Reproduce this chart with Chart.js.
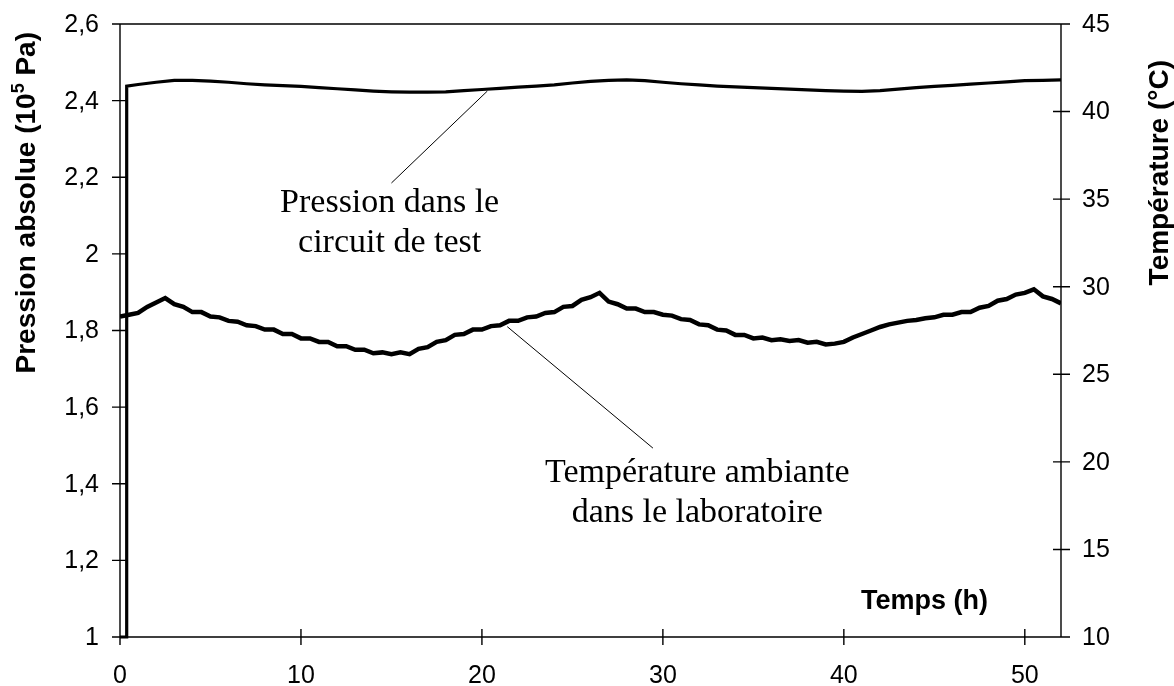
<!DOCTYPE html>
<html>
<head>
<meta charset="utf-8">
<script src="https://cdn.jsdelivr.net/npm/chart.js@4"></script>
<style>
  html, body { margin: 0; padding: 0; background: #fff; }
  #wrap { width: 1174px; height: 686px; }
</style>
</head>
<body>
<div id="wrap"><canvas id="chart" width="1174" height="686"></canvas></div>
<script>
// time axis (h) and tick values
var xTicks = [0, 10, 20, 30, 40, 50];
var pTicks = [1, 1.2, 1.4, 1.6, 1.8, 2, 2.2, 2.4, 2.6];
var tTicks = [10, 15, 20, 25, 30, 35, 40, 45];

// test circuit pressure (10^5 Pa)
var pressHours = [0, 0.37, 0.37, 1, 2, 3, 4, 5, 6, 7, 8, 9, 10, 11, 12, 13, 14, 15, 16, 17, 18, 19, 20,
  21, 22, 23, 24, 25, 26, 27, 28, 29, 30, 31, 32, 33, 34, 35, 36, 37, 38, 39, 40,
  41, 42, 43, 44, 45, 46, 47, 48, 49, 50, 51, 52];
var pressure = [1.0, 1.0, 2.438, 2.442, 2.448, 2.453, 2.453, 2.451, 2.448, 2.444, 2.441, 2.439, 2.437,
  2.434, 2.431, 2.428, 2.425, 2.423, 2.422, 2.422, 2.423, 2.426, 2.429,
  2.432, 2.435, 2.438, 2.441, 2.446, 2.450, 2.453, 2.454, 2.452, 2.448, 2.444, 2.441, 2.438, 2.436,
  2.434, 2.432, 2.430, 2.428, 2.426, 2.425,
  2.424, 2.426, 2.430, 2.434, 2.437, 2.440, 2.443, 2.446, 2.449, 2.452, 2.453, 2.454];

// lab ambient temperature (°C)
var tempHours = [0, 0.5, 1, 1.5, 2, 2.5, 3, 3.5, 4, 4.5, 5, 5.5, 6, 6.5, 7, 7.5, 8, 8.5, 9, 9.5,
  10, 10.5, 11, 11.5, 12, 12.5, 13, 13.5, 14, 14.5, 15, 15.5, 16, 16.5, 17, 17.5, 18, 18.5, 19, 19.5,
  20, 20.5, 21, 21.5, 22, 22.5, 23, 23.5, 24, 24.5, 25, 25.5, 26, 26.5, 27, 27.5, 28, 28.5, 29, 29.5,
  30, 30.5, 31, 31.5, 32, 32.5, 33, 33.5, 34, 34.5, 35, 35.5, 36, 36.5, 37, 37.5, 38, 38.5, 39, 39.5,
  40, 40.5, 41, 41.5, 42, 42.5, 43, 43.5, 44, 44.5, 45, 45.5, 46, 46.5, 47, 47.5, 48, 48.5, 49, 49.5,
  50, 50.5, 51, 51.5, 52];
var temperature = [28.3, 28.4, 28.5, 28.85, 29.1, 29.35, 29.0, 28.85, 28.55, 28.55,
  28.3, 28.25, 28.05, 28.0, 27.8, 27.75, 27.55, 27.55, 27.3, 27.3,
  27.05, 27.05, 26.85, 26.85, 26.6, 26.6, 26.4, 26.4, 26.2, 26.25,
  26.15, 26.25, 26.15, 26.45, 26.55, 26.85, 26.95, 27.25, 27.3, 27.55,
  27.55, 27.75, 27.8, 28.05, 28.05, 28.25, 28.3, 28.5, 28.55, 28.85,
  28.9, 29.25, 29.4, 29.65, 29.15, 29.0, 28.75, 28.75, 28.55, 28.55,
  28.4, 28.35, 28.15, 28.1, 27.85, 27.8, 27.55, 27.5, 27.25, 27.25,
  27.05, 27.1, 26.95, 27.0, 26.9, 26.95, 26.8, 26.85, 26.7, 26.75,
  26.85, 27.1, 27.3, 27.5, 27.7, 27.85, 27.95, 28.05, 28.1, 28.2,
  28.25, 28.4, 28.4, 28.55, 28.55, 28.8, 28.9, 29.2, 29.3, 29.55,
  29.65, 29.85, 29.45, 29.3, 29.05];

var SANS = '"Liberation Sans", Arial, sans-serif';
var SERIF = '"Liberation Serif", "Times New Roman", serif';

function pairs(xs, ys) {
  var out = [];
  for (var i = 0; i < xs.length; i++) out.push({ x: xs[i], y: ys[i] });
  return out;
}

function decimalComma(v) {
  return String(v).replace('.', ',');
}

// frame: top border, three axes, ticks crossing each axis line, tick labels
var framePlugin = {
  id: 'frame',
  afterDatasetsDraw: function(chart) {
    var ctx = chart.ctx, a = chart.chartArea, s = chart.scales;
    ctx.save();
    ctx.strokeStyle = '#000';
    ctx.lineWidth = 1.4;
    ctx.beginPath();
    ctx.moveTo(a.left - 8, a.top); ctx.lineTo(a.right + 9, a.top);
    ctx.moveTo(a.left, a.top); ctx.lineTo(a.left, a.bottom);
    ctx.moveTo(a.right, a.top); ctx.lineTo(a.right, a.bottom);
    ctx.moveTo(a.left, a.bottom); ctx.lineTo(a.right, a.bottom);
    pTicks.forEach(function(v) {
      var y = s.yP.getPixelForValue(v);
      ctx.moveTo(a.left - 8, y); ctx.lineTo(a.left + 8, y);
    });
    tTicks.forEach(function(v) {
      var y = s.yT.getPixelForValue(v);
      ctx.moveTo(a.right - 8, y); ctx.lineTo(a.right + 9, y);
    });
    xTicks.forEach(function(v) {
      var x = s.x.getPixelForValue(v);
      ctx.moveTo(x, a.bottom - 8); ctx.lineTo(x, a.bottom + 8);
    });
    ctx.stroke();

    ctx.fillStyle = '#000';
    ctx.font = '25px ' + SANS;
    ctx.textBaseline = 'middle';
    ctx.textAlign = 'right';
    pTicks.forEach(function(v) {
      ctx.fillText(decimalComma(v), a.left - 21, s.yP.getPixelForValue(v) + 1);
    });
    ctx.textAlign = 'left';
    tTicks.forEach(function(v) {
      ctx.fillText(String(v), a.right + 21, s.yT.getPixelForValue(v) + 1);
    });
    ctx.textAlign = 'center';
    xTicks.forEach(function(v) {
      ctx.fillText(String(v), s.x.getPixelForValue(v), a.bottom + 39);
    });
    ctx.restore();
  }
};

// callout texts with their leader lines, placed in data units (h, 10^5 Pa)
var callouts = [
  { lines: ['Pression dans le', 'circuit de test'], at: [14.9, 2.109], gap: 40,
    from: [15.0, 2.185], to: [20.3, 2.425] },
  { lines: ['Température ambiante', 'dans le laboratoire'], at: [31.9, 1.405], gap: 40,
    from: [29.45, 1.493], to: [21.4, 1.81] }
];

var labelsPlugin = {
  id: 'labels',
  afterDraw: function(chart) {
    var ctx = chart.ctx, s = chart.scales;
    ctx.save();
    ctx.fillStyle = '#000';
    ctx.strokeStyle = '#000';

    callouts.forEach(function(c) {
      ctx.lineWidth = 1;
      ctx.beginPath();
      ctx.moveTo(s.x.getPixelForValue(c.from[0]), s.yP.getPixelForValue(c.from[1]));
      ctx.lineTo(s.x.getPixelForValue(c.to[0]), s.yP.getPixelForValue(c.to[1]));
      ctx.stroke();
      ctx.font = '34px ' + SERIF;
      ctx.textAlign = 'center';
      ctx.textBaseline = 'alphabetic';
      var cx = s.x.getPixelForValue(c.at[0]);
      var cy = s.yP.getPixelForValue(c.at[1]);
      c.lines.forEach(function(t, i) { ctx.fillText(t, cx, cy + i * c.gap); });
    });

    // x axis title sits inside the plot
    ctx.font = 'bold 27px ' + SANS;
    ctx.textAlign = 'left';
    ctx.textBaseline = 'middle';
    ctx.fillText('Temps (h)', 861, 602);

    // left title with superscript exponent
    var big = 'bold 28px ' + SANS, small = 'bold 18px ' + SANS;
    var s1 = 'Pression absolue (10', s2 = '5', s3 = ' Pa)';
    ctx.font = big; var w1 = ctx.measureText(s1).width, w3 = ctx.measureText(s3).width;
    ctx.font = small; var w2 = ctx.measureText(s2).width;
    ctx.save();
    ctx.translate(27, 32 + w1 + w2 + w3);
    ctx.rotate(-Math.PI / 2);
    ctx.font = big; ctx.fillText(s1, 0, 0);
    ctx.font = small; ctx.fillText(s2, w1, -8);
    ctx.font = big; ctx.fillText(s3, w1 + w2, 0);
    ctx.restore();

    // right title
    var rt = 'Température (°C)';
    ctx.font = big;
    var wr = ctx.measureText(rt).width;
    ctx.save();
    ctx.translate(1160, 60 + wr);
    ctx.rotate(-Math.PI / 2);
    ctx.fillText(rt, 0, 0);
    ctx.restore();

    ctx.restore();
  }
};

var hidden = { display: false };

new Chart(document.getElementById('chart'), {
  type: 'line',
  data: {
    datasets: [
      {
        label: 'Pression',
        data: pairs(pressHours, pressure),
        yAxisID: 'yP',
        borderColor: '#000',
        borderWidth: 3.2,
        pointRadius: 0,
        tension: 0,
        clip: false
      },
      {
        label: 'Température',
        data: pairs(tempHours, temperature),
        yAxisID: 'yT',
        borderColor: '#000',
        borderWidth: 4.5,
        pointRadius: 0,
        tension: 0
      }
    ]
  },
  options: {
    responsive: false,
    animation: false,
    devicePixelRatio: 1,
    layout: { padding: { top: 24, left: 0, right: 0, bottom: 0 } },
    plugins: { legend: { display: false }, tooltip: { enabled: false } },
    scales: {
      x: {
        type: 'linear',
        min: 0, max: 52,
        grid: { display: false, drawTicks: false },
        border: { display: false },
        ticks: hidden,
        afterFit: function(sc) { sc.height = 49; }
      },
      yP: {
        type: 'linear',
        position: 'left',
        min: 1, max: 2.6,
        grid: { display: false, drawTicks: false },
        border: { display: false },
        ticks: hidden,
        afterFit: function(sc) { sc.width = 120; }
      },
      yT: {
        type: 'linear',
        position: 'right',
        min: 10, max: 45,
        grid: { display: false, drawTicks: false },
        border: { display: false },
        ticks: hidden,
        afterFit: function(sc) { sc.width = 113; }
      }
    }
  },
  plugins: [framePlugin, labelsPlugin]
});
</script>
</body>
</html>
